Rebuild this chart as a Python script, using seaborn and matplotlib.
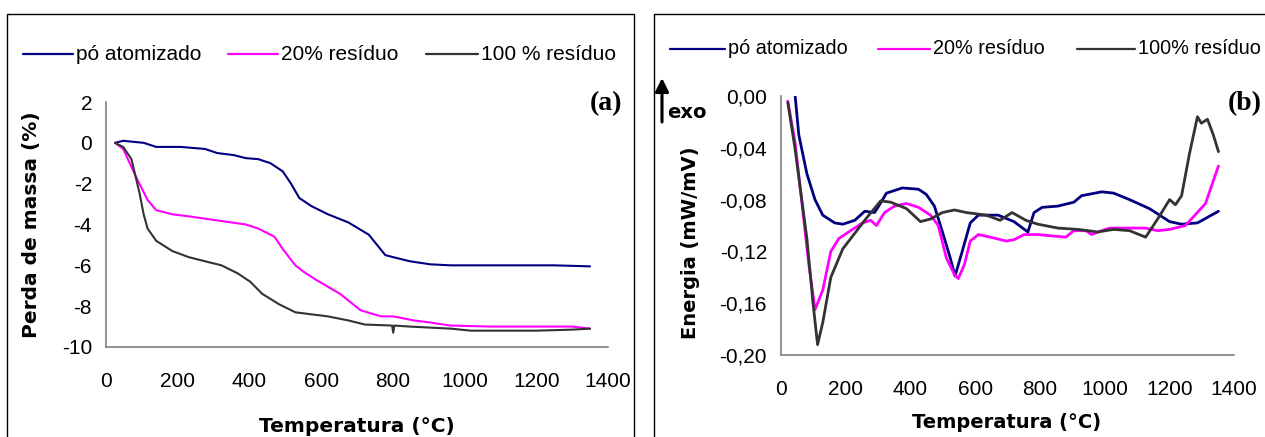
import numpy as np
import pandas as pd
import seaborn as sns
import matplotlib
matplotlib.use("Agg")
import matplotlib.pyplot as plt
from matplotlib.patches import Rectangle, FancyArrowPatch
from matplotlib.lines import Line2D

# ---------------- data: panel (a) TGA ----------------
tga_po_x = [25, 48, 105, 140, 208, 276, 310, 356, 390, 425, 459, 493, 516, 539, 573, 619, 676, 733, 779, 801, 847, 904, 961, 1100, 1250, 1350]
tga_po_y = [0.0, 0.1, 0.0, -0.2, -0.2, -0.3, -0.5, -0.6, -0.75, -0.8, -1.0, -1.4, -2.0, -2.7, -3.1, -3.5, -3.9, -4.5, -5.5, -5.6, -5.8, -5.95, -6.0, -6.0, -6.0, -6.05]

tga_20_x = [25, 48, 82, 116, 140, 185, 231, 310, 390, 425, 470, 493, 528, 550, 585, 653, 710, 767, 801, 859, 904, 961, 1075, 1300, 1350]
tga_20_y = [0.0, -0.3, -1.6, -2.8, -3.3, -3.5, -3.6, -3.8, -4.0, -4.2, -4.6, -5.2, -6.0, -6.3, -6.7, -7.4, -8.2, -8.5, -8.5, -8.7, -8.8, -8.95, -9.0, -9.0, -9.1]

tga_100_x = [25, 48, 71, 94, 105, 116, 140, 185, 231, 276, 322, 368, 402, 436, 482, 528, 573, 619, 676, 722, 798, 801, 804, 847, 961, 1018, 1200, 1300, 1350]
tga_100_y = [0.0, -0.2, -0.8, -2.5, -3.5, -4.2, -4.8, -5.3, -5.6, -5.8, -6.0, -6.4, -6.8, -7.4, -7.9, -8.3, -8.4, -8.5, -8.7, -8.9, -8.95, -9.3, -8.95, -9.0, -9.1, -9.2, -9.2, -9.15, -9.1]

# ---------------- data: panel (b) DTA ----------------
dta_po_x = [43, 55, 80, 105, 129, 166, 191, 228, 259, 289, 302, 326, 375, 425, 449, 474, 499, 523, 538, 560, 585, 610, 671, 720, 763, 782, 807, 856, 905, 929, 991, 1028, 1077, 1139, 1201, 1238, 1287, 1352]
dta_po_y = [0.002, -0.03, -0.06, -0.08, -0.092, -0.098, -0.099, -0.096, -0.089, -0.09, -0.085, -0.075, -0.071, -0.072, -0.076, -0.085, -0.105, -0.125, -0.139, -0.12, -0.098, -0.092, -0.092, -0.097, -0.105, -0.09, -0.086, -0.085, -0.082, -0.077, -0.074, -0.075, -0.08, -0.087, -0.097, -0.099, -0.098, -0.089]

dta_20_x = [21, 43, 68, 86, 105, 129, 154, 179, 215, 252, 277, 295, 320, 351, 388, 425, 462, 486, 511, 536, 548, 567, 585, 610, 647, 696, 720, 751, 794, 880, 905, 942, 960, 991, 1016, 1127, 1164, 1201, 1250, 1312, 1352]
dta_20_y = [-0.004, -0.035, -0.09, -0.13, -0.165, -0.15, -0.12, -0.11, -0.104, -0.098, -0.096, -0.1, -0.09, -0.085, -0.083, -0.086, -0.092, -0.1, -0.125, -0.138, -0.141, -0.13, -0.112, -0.107, -0.109, -0.112, -0.111, -0.107, -0.107, -0.109, -0.104, -0.104, -0.107, -0.104, -0.102, -0.102, -0.104, -0.103, -0.1, -0.083, -0.054]

dta_100_x = [21, 43, 80, 99, 113, 129, 154, 191, 228, 265, 308, 339, 388, 431, 462, 499, 536, 573, 634, 677, 714, 757, 794, 856, 917, 979, 1028, 1077, 1127, 1164, 1201, 1219, 1238, 1262, 1287, 1299, 1318, 1336, 1352]
dta_100_y = [-0.005, -0.04, -0.11, -0.16, -0.192, -0.175, -0.14, -0.118, -0.106, -0.094, -0.081, -0.082, -0.087, -0.097, -0.095, -0.09, -0.088, -0.09, -0.092, -0.096, -0.09, -0.096, -0.099, -0.102, -0.103, -0.105, -0.103, -0.104, -0.109, -0.095, -0.08, -0.084, -0.077, -0.045, -0.016, -0.021, -0.018, -0.03, -0.043]

labels_a = ["pó atomizado", "20% resíduo", "100 % resíduo"]
labels_b = ["pó atomizado", "20% resíduo", "100% resíduo"]
colors = ["#000080", "#FF00FF", "#333333"]

sns.set_style("white")
plt.rcParams['font.family'] = ['Liberation Sans', 'DejaVu Sans']
plt.rcParams['text.color'] = 'black'
plt.rcParams['axes.labelcolor'] = 'black'

W, H = 1265, 437
fig = plt.figure(figsize=(W/100, H/100), dpi=100)

def fx(px):
    return px / W

def fy(py):
    return 1 - py / H

# panel borders (Excel chart area)
fig.patches.append(Rectangle((fx(7), -0.05), fx(634 - 7), fy(14) + 0.05, transform=fig.transFigure,
                             fill=False, edgecolor="black", linewidth=1.0))
fig.patches.append(Rectangle((fx(654), -0.05), 0.5, fy(14) + 0.05, transform=fig.transFigure,
                             fill=False, edgecolor="black", linewidth=1.0))

ax1 = fig.add_axes([fx(106), fy(347), fx(608 - 106), (347 - 102) / H])
ax2 = fig.add_axes([fx(781), fy(355), fx(1234 - 781), (355 - 96) / H])

def make_df(xs, ys, labs):
    frames = []
    for x, y, l in zip(xs, ys, labs):
        frames.append(pd.DataFrame({"T": x, "v": y, "s": l}))
    return pd.concat(frames, ignore_index=True)

dfa = make_df([tga_po_x, tga_20_x, tga_100_x], [tga_po_y, tga_20_y, tga_100_y], labels_a)
dfb = make_df([dta_po_x, dta_20_x, dta_100_x], [dta_po_y, dta_20_y, dta_100_y], labels_b)

sns.lineplot(data=dfa, x="T", y="v", hue="s", palette=dict(zip(labels_a, colors)),
             ax=ax1, linewidth=1.5, legend=False, sort=False)
sns.lineplot(data=dfb, x="T", y="v", hue="s", palette=dict(zip(labels_b, colors)),
             ax=ax2, linewidth=2.0, legend=False, sort=False)

spine_col = "#808080"
for ax in (ax1, ax2):
    ax.set_xlim(0, 1400)
    ax.set_xticks(np.arange(0, 1401, 200))
    for s in ("top", "right"):
        ax.spines[s].set_visible(False)
    for s in ("left", "bottom"):
        ax.spines[s].set_color(spine_col)
        ax.spines[s].set_linewidth(1.2)
    ax.tick_params(axis="both", direction="out", length=5, width=1.2, color=spine_col,
                   labelsize=15, labelcolor="black", pad=5)
    ax.tick_params(axis="x", pad=13)
    ax.set_facecolor("none")
    ax.set_xlabel("")
    ax.set_ylabel("")

ax1.set_ylim(-10, 2)
ax1.set_yticks(np.arange(-10, 2.1, 2))
ax1.set_yticklabels([str(v) for v in range(-10, 3, 2)])

ax2.set_ylim(-0.20, 0.0)
yt = [-0.20, -0.16, -0.12, -0.08, -0.04, 0.0]
ax2.set_yticks(yt)
ax2.set_yticklabels(["-0,20", "-0,16", "-0,12", "-0,08", "-0,04", "0,00"])

lab_font = dict(family="DejaVu Sans", fontweight="bold", color="black")
fig.text(fx(357), fy(427), "Temperatura (°C)", ha="center", va="center", fontsize=14.5, **lab_font)
fig.text(fx(32), fy(225), "Perda de massa (%)", ha="center", va="center", rotation=90, fontsize=14.5, **lab_font)
fig.text(fx(1007), fy(423), "Temperatura (°C)", ha="center", va="center", fontsize=14, **lab_font)
fig.text(fx(690), fy(243), "Energia (mW/mV)", ha="center", va="center", rotation=90, fontsize=14, **lab_font)

fig.text(fx(622), fy(104), "(a)", ha="right", va="center", color="black",
         family="Liberation Serif", fontweight="bold", fontsize=20)
fig.text(fx(1262), fy(104), "(b)", ha="right", va="center", color="black",
         family="Liberation Serif", fontweight="bold", fontsize=20)

# legends drawn as figure-level line + text
def legend_row(y, segs, labels, fs):
    for (x0, x1), lab, c in zip(segs, labels, colors):
        fig.add_artist(Line2D([fx(x0), fx(x1)], [fy(y), fy(y)], color=c, linewidth=1.6,
                              transform=fig.transFigure))
        fig.text(fx(x1 + 3), fy(y), lab, ha="left", va="center", fontsize=fs, color="black")

legend_row(54, [(23, 73), (228, 278), (426, 478)], labels_a, 15)
legend_row(49, [(670, 725), (878, 930), (1077, 1135)], labels_b, 14.3)

# exo arrow
fig.add_artist(FancyArrowPatch((fx(662), fy(122)), (fx(662), fy(78)),
               transform=fig.transFigure, arrowstyle="-|>,head_length=8,head_width=4",
               color="black", linewidth=2.2, shrinkA=0, shrinkB=0))
fig.text(fx(667), fy(112), "exo", ha="left", va="center", fontsize=14, color="black",
         family="DejaVu Sans", fontweight="bold")

fig.savefig("out.png", dpi=100)
